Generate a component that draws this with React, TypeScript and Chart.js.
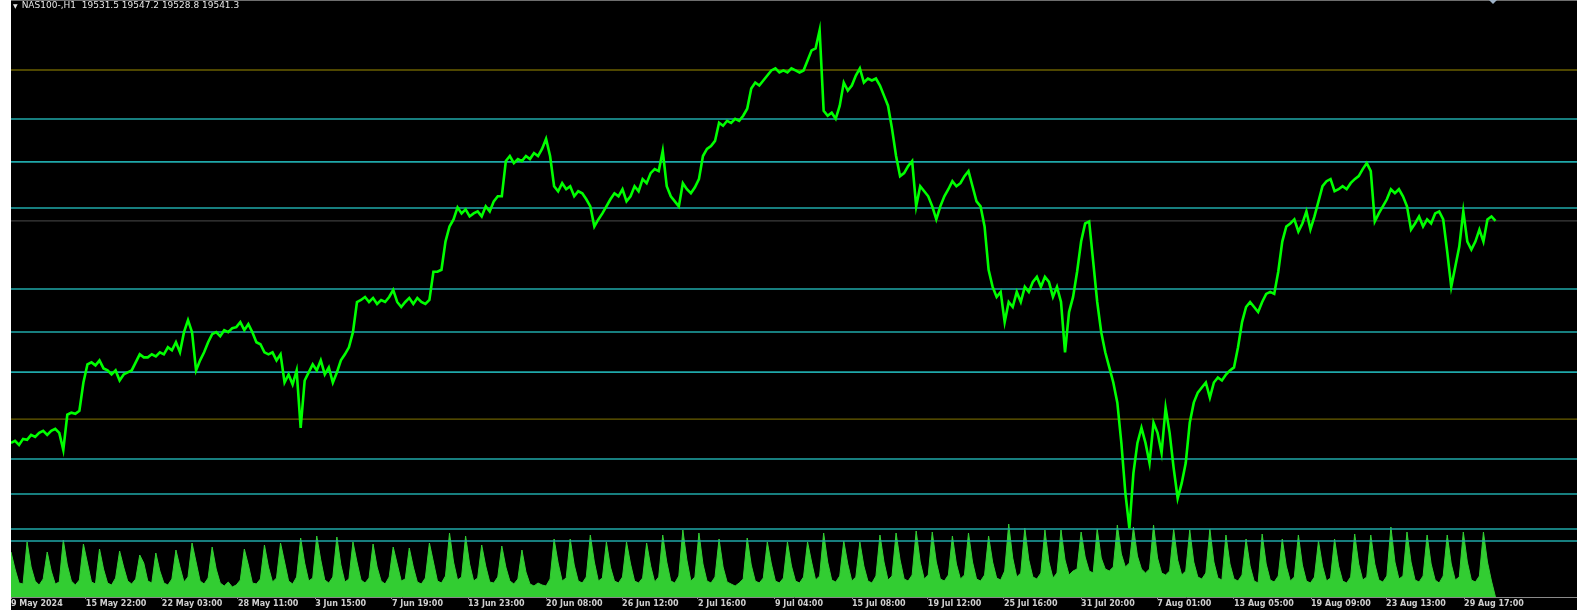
import React, { useEffect, useRef } from "react";
import { Chart, registerables } from "chart.js";

Chart.register(...registerables);

// ---- data -------------------------------------------------------------
const symbolTitle = "NAS100-,H1";
const ohlcHeader = [19531.5, 19547.2, 19528.8, 19541.3];

// x positions (sample index) of the time-axis labels
const tickIndex = [0, 18.6, 37.5, 56.4, 75.6, 94.7, 113.6, 133, 151.9, 170.75, 189.9, 209.05, 227.9, 246.8, 266, 284.9, 304, 323.15, 341.8, 361.2];
const tickLabels = [
  "9 May 2024", "15 May 22:00", "22 May 03:00", "28 May 11:00", "3 Jun 15:00", "7 Jun 19:00",
  "13 Jun 23:00", "20 Jun 08:00", "26 Jun 12:00", "2 Jul 16:00", "9 Jul 04:00", "15 Jul 08:00",
  "19 Jul 12:00", "25 Jul 16:00", "31 Jul 20:00", "7 Aug 01:00", "13 Aug 05:00", "19 Aug 09:00",
  "23 Aug 13:00", "29 Aug 17:00",
];

// NAS100 H1 closing prices (sampled)
const priceClose = [
  18218, 18230, 18206, 18242, 18236, 18266, 18254, 18278, 18290, 18266,
  18290, 18302, 18278, 18176, 18386, 18398, 18392, 18410, 18578, 18686,
  18698, 18680, 18710, 18662, 18650, 18626, 18650, 18590, 18626, 18638,
  18650, 18698, 18746, 18728, 18728, 18746, 18734, 18758, 18746, 18788,
  18770, 18818, 18758, 18878, 18950, 18878, 18650, 18710, 18758, 18818,
  18866, 18878, 18854, 18890, 18878, 18902, 18908, 18938, 18890, 18926,
  18878, 18818, 18806, 18758, 18746, 18758, 18710, 18746, 18578, 18626,
  18566, 18650, 18308, 18590, 18638, 18686, 18650, 18710, 18626, 18668,
  18578, 18638, 18710, 18746, 18788, 18878, 19058, 19070, 19088, 19058,
  19082, 19046, 19070, 19058, 19088, 19130, 19058, 19028, 19058, 19082,
  19046, 19082, 19058, 19046, 19070, 19238, 19238, 19250, 19418, 19508,
  19550, 19622, 19586, 19610, 19568, 19586, 19598, 19568, 19628, 19598,
  19658, 19688, 19688, 19898, 19928, 19886, 19910, 19898, 19928, 19910,
  19946, 19928, 19970, 20030, 19928, 19748, 19718, 19766, 19730, 19748,
  19688, 19718, 19706, 19670, 19628, 19508, 19550, 19586, 19628, 19670,
  19706, 19688, 19730, 19658, 19688, 19748, 19718, 19790, 19766, 19826,
  19850, 19838, 19958, 19748, 19688, 19658, 19628, 19766, 19730, 19706,
  19742, 19790, 19928, 19970, 19988, 20018, 20126, 20108, 20138, 20126,
  20150, 20138, 20168, 20210, 20330, 20366, 20348, 20378, 20408, 20438,
  20450, 20426, 20438, 20426, 20450, 20438, 20426, 20438, 20498, 20558,
  20570, 20678, 20198, 20168, 20186, 20150, 20228, 20366, 20318, 20348,
  20408, 20450, 20366, 20390, 20378, 20390, 20348, 20288, 20228, 20090,
  19928, 19808, 19826, 19868, 19898, 19628, 19748, 19718, 19688, 19628,
  19550, 19628, 19688, 19730, 19778, 19748, 19766, 19808, 19838, 19748,
  19658, 19628, 19508, 19250, 19148, 19088, 19118, 18938, 19058, 19028,
  19118, 19058, 19148, 19118, 19178, 19208, 19148, 19208, 19178, 19088,
  19148, 19058, 18758, 18998, 19088, 19238, 19418, 19526, 19538, 19298,
  19058, 18878, 18758, 18668, 18578, 18458, 18218, 17918, 17708, 18038,
  18218, 18308, 18218, 18098, 18338, 18278, 18158, 18428, 18278, 18068,
  17888, 17978, 18098, 18338, 18458, 18518, 18548, 18578, 18488, 18578,
  18608, 18590, 18626, 18650, 18668, 18788, 18938, 19028, 19058, 19028,
  18998, 19058, 19106, 19118, 19106, 19238, 19418, 19508, 19526, 19550,
  19478, 19526, 19598, 19490, 19568, 19658, 19748, 19778, 19790, 19718,
  19730, 19748, 19730, 19766, 19790, 19808, 19850, 19886, 19838, 19538,
  19586, 19628, 19670, 19730, 19706, 19730, 19688, 19628, 19490, 19526,
  19568, 19508, 19550, 19526, 19586, 19598, 19550, 19358, 19148, 19268,
  19388, 19598, 19418, 19370, 19418, 19490, 19418, 19550, 19568, 19541,
];

// tick volume (sampled)
const tickVolume = [
  4500, 2800, 1400, 1300, 5500, 3000, 1600, 1200, 1800, 4500,
  2600, 1300, 1500, 5700, 3200, 1600, 1200, 1700, 5300, 3400,
  1500, 1300, 4800, 2800, 1400, 1200, 1900, 4600, 3000, 1600,
  1300, 1800, 4200, 3400, 1600, 1400, 4400, 2600, 1400, 1200,
  1800, 4700, 3000, 1500, 2000, 5400, 3500, 1600, 1300, 1900,
  5000, 2800, 1400, 1100, 1500, 1000, 1200, 1700, 4800, 3200,
  1400, 1300, 1800, 5200, 3000, 1500, 1900, 5400, 3500, 1600,
  1300, 2000, 5900, 3400, 1600, 1900, 6100, 3700, 1700, 1400,
  2000, 6000, 3200, 1500, 1800, 5500, 3500, 1700, 1400, 1900,
  5300, 3000, 1600, 1300, 2000, 5000, 3300, 1600, 1800, 4900,
  3000, 1500, 1300, 1900, 5400, 3500, 1600, 1400, 2100, 6400,
  3500, 1700, 2000, 6100, 3300, 1600, 1900, 5200, 3100, 1500,
  1400, 2000, 5100, 3000, 1600, 1300, 1800, 4700, 2500, 1300,
  1100, 1400, 1200, 1100, 1800, 5800, 3400, 1600, 1900, 5800,
  3200, 1600, 1400, 2000, 6200, 3500, 1600, 1900, 5500, 3000,
  1600, 1400, 2000, 5500, 3300, 1600, 1400, 1900, 5400, 3100,
  1500, 2000, 6200, 3500, 1600, 1400, 2100, 6700, 3700, 1600,
  2000, 6400, 3300, 1600, 1400, 2000, 5800, 3000, 1500, 1300,
  1100, 1400, 1800, 5900, 3200, 1600, 1400, 1900, 5500, 3300,
  1600, 1400, 1900, 5500, 3100, 1600, 1400, 2000, 5500, 3500,
  1700, 2100, 6400, 3500, 1700, 1500, 2100, 5600, 3300, 1600,
  2000, 5500, 3100, 1600, 1400, 2100, 6200, 3500, 1700, 2100,
  6400, 3700, 1800, 1600, 2200, 6600, 3500, 1800, 2200, 6500,
  3500, 1800, 1600, 2200, 6100, 3300, 1800, 2200, 6400, 3500,
  1800, 1600, 2200, 6100, 3500, 1900, 1700, 2600, 7300, 3900,
  2000, 2400, 6900, 3700, 2000, 1800, 2400, 6700, 3500, 1900,
  2400, 6700, 3700, 2200, 2600, 2800, 6500, 4000, 2600, 2400,
  6800, 3900, 2800, 2600, 3000, 7200, 4300, 3000, 3400, 7000,
  4100, 2800, 2400, 2800, 7200, 3900, 2400, 2200, 2600, 6800,
  3700, 2200, 2600, 6700, 3500, 2000, 1800, 2400, 6800, 3500,
  1900, 1700, 6200, 3300, 1800, 1600, 2200, 5800, 3100, 1600,
  1400, 6300, 3300, 1700, 1500, 2100, 5800, 3100, 1600, 2000,
  6200, 3200, 1600, 1400, 2000, 5600, 3100, 1600, 1900, 5800,
  3100, 1600, 1400, 2000, 6300, 3300, 1700, 2000, 6200, 3300,
  1700, 1500, 2100, 7000, 3500, 1800, 2100, 6500, 3500, 1700,
  1500, 2100, 6200, 3300, 1700, 1400, 2100, 6200, 3300, 1700,
  2000, 6500, 3500, 1700, 1500, 2100, 6500, 3500, 1600, 0,
];

// horizontal levels drawn on the chart
const cyanLevels = [20149, 19893, 19618, 19135, 18879, 18640, 18122, 17913, 17705, 17633];
const oliveLevels = [20441, 18360];
const bidLevel = 19541.3;

// axis ranges
const priceMax = 20858;
const priceMin = 17299.5;
const volumeMax = 59700;
const xMax = 389.26;

// ---- component --------------------------------------------------------
export default function App() {
  const canvasRef = useRef<HTMLCanvasElement | null>(null);

  useEffect(() => {
    const canvas = canvasRef.current;
    if (!canvas) return;

    const levelSet = (val: number, color: string, width: number, order: number) => ({
      type: "line" as const,
      data: [
        { x: 0, y: val },
        { x: xMax, y: val },
      ],
      borderColor: color,
      borderWidth: width,
      pointRadius: 0,
      yAxisID: "y",
      order,
    });

    const bgPlugin = {
      id: "mtBackground",
      beforeDraw(chart: any) {
        const { ctx, width, height } = chart;
        ctx.save();
        ctx.fillStyle = "#000000";
        ctx.fillRect(0, 0, width, height);
        ctx.fillStyle = "#6e6e6e";
        ctx.fillRect(0, 0, width, 1);
        ctx.restore();
      },
    };

    const chart = new Chart(canvas, {
      type: "line",
      data: {
        datasets: [
          {
            type: "line",
            label: "Volume",
            data: tickVolume.map((v, i) => ({ x: i, y: v })),
            borderColor: "#32cd32",
            backgroundColor: "#32cd32",
            borderWidth: 1,
            fill: "origin",
            pointRadius: 0,
            yAxisID: "y2",
            order: 5,
          } as any,
          ...cyanLevels.map((v) => levelSet(v, "#1fa8aa", 1.6, 3)),
          ...oliveLevels.map((v) => levelSet(v, "#6a5f00", 1.4, 3)),
          levelSet(bidLevel, "#3c3c3c", 1.2, 3),
          {
            type: "line",
            label: "NAS100",
            data: priceClose.map((v, i) => ({ x: i, y: v })),
            borderColor: "#00ff00",
            borderWidth: 2.6,
            pointRadius: 0,
            tension: 0,
            yAxisID: "y",
            order: 1,
          } as any,
        ],
      },
      options: {
        responsive: false,
        animation: false,
        events: [],
        layout: { padding: 0 },
        plugins: {
          legend: { display: false },
          tooltip: { enabled: false },
          title: { display: false },
        },
        scales: {
          x: {
            type: "linear",
            min: 0,
            max: xMax,
            position: "bottom",
            afterBuildTicks: (scale: any) => {
              scale.ticks = tickIndex.map((v) => ({ value: v }));
            },
            afterFit: (scale: any) => {
              scale.height = 13;
            },
            grid: {
              display: true,
              drawOnChartArea: false,
              drawTicks: true,
              tickLength: 2,
              color: "#8a8a8a",
            },
            border: { display: true, color: "#8a8a8a", width: 1 },
            ticks: {
              autoSkip: false,
              maxRotation: 0,
              minRotation: 0,
              align: "start",
              padding: 0,
              color: "#cfcfcf",
              font: { family: "DejaVu Sans", size: 8, weight: "bold" },
              callback: (_v: any, i: number) => tickLabels[i],
            },
          },
          y: {
            type: "linear",
            display: false,
            min: priceMin,
            max: priceMax,
          },
          y2: {
            type: "linear",
            display: false,
            min: 0,
            max: volumeMax,
          },
        },
      } as any,
      plugins: [bgPlugin],
    });

    return () => chart.destroy();
  }, []);

  return (
    <div
      style={{
        position: "absolute",
        left: 0,
        top: 0,
        width: 1577,
        height: 614,
        background: "#ffffff",
        overflow: "hidden",
      }}
    >
      <canvas
        ref={canvasRef}
        width={1566}
        height={610}
        style={{ position: "absolute", left: 11, top: 0, width: 1566, height: 610 }}
      />
      <div
        style={{
          position: "absolute",
          left: 13,
          top: 0,
          height: 11,
          lineHeight: "11px",
          fontFamily: "DejaVu Sans",
          fontSize: 9,
          color: "#e6e6e6",
          whiteSpace: "pre",
        }}
      >
        <span style={{ fontSize: 6, verticalAlign: "top", marginRight: 4 }}>▼</span>
        {symbolTitle + "  " + ohlcHeader.map((v) => v.toFixed(1)).join(" ")}
      </div>
      <div
        style={{
          position: "absolute",
          left: 1489,
          top: 0,
          width: 0,
          height: 0,
          borderLeft: "4px solid transparent",
          borderRight: "4px solid transparent",
          borderTop: "4px solid #9fb3c8",
        }}
      />
    </div>
  );
}
